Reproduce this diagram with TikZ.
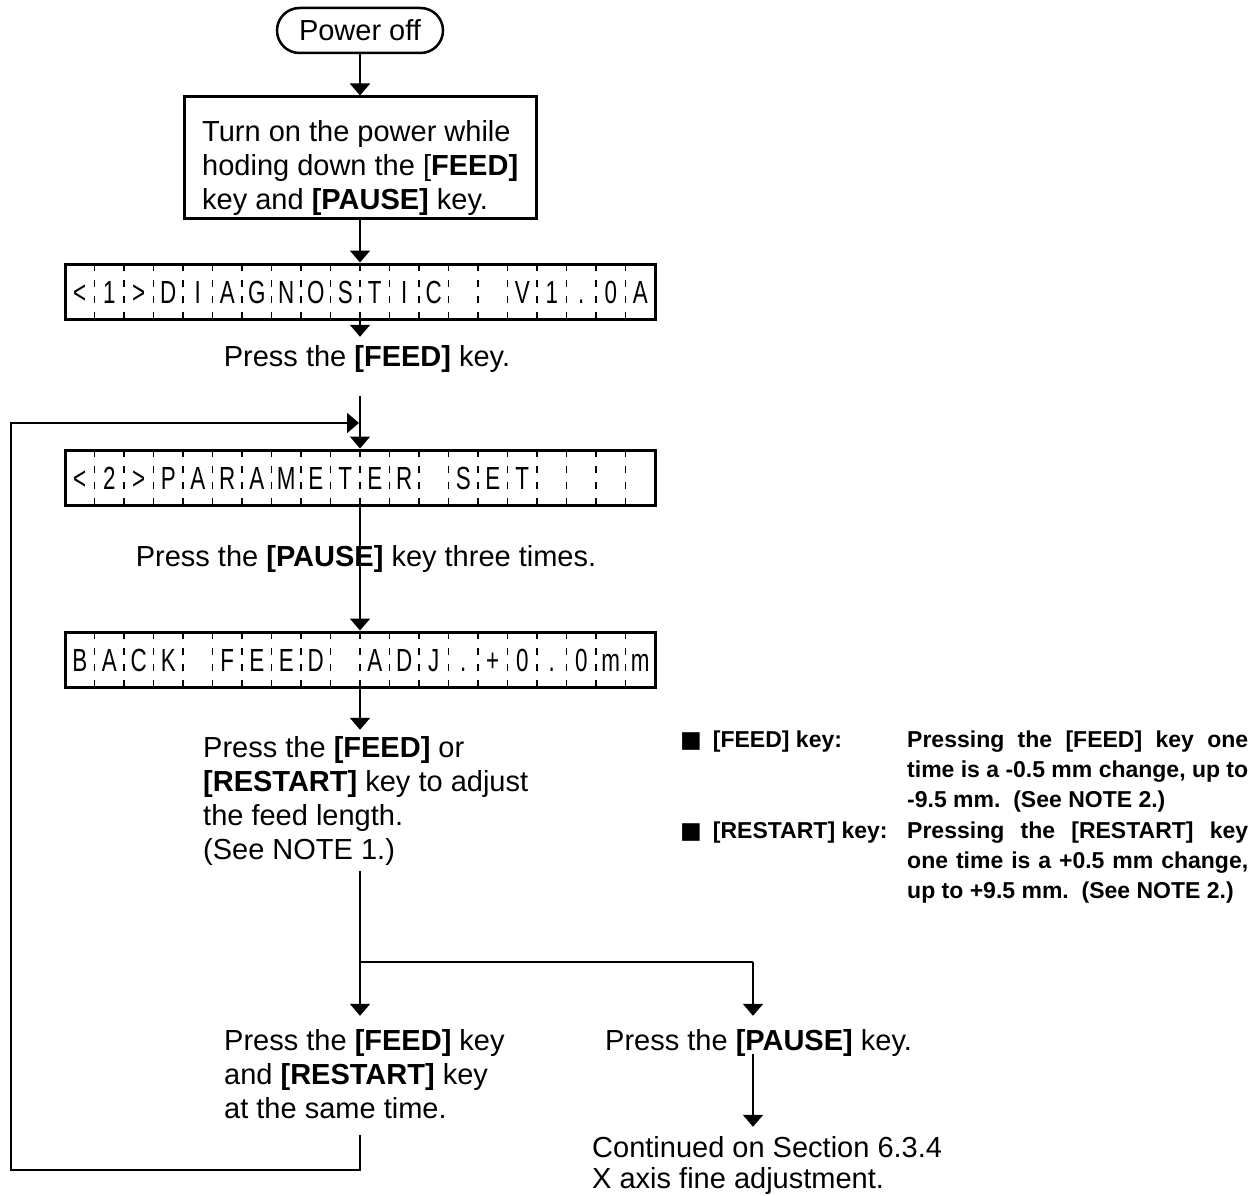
\documentclass[tikz,border=0pt]{standalone}
\usepackage{fontspec}
\setmainfont{Liberation Sans}
\newfontfamily\lcdfont[FakeStretch=0.7]{Liberation Sans}
\newfontfamily\symfont{DejaVu Sans}
\usetikzlibrary{arrows.meta}

\tikzset{
  arr/.style={line width=2pt, -{Triangle[width=20pt,length=12pt]}},
  conn/.style={line width=2pt, line join=miter},
  txt/.style={inner sep=0pt, align=left, font=\fontsize{29}{34}\selectfont},
  txtc/.style={inner sep=0pt, align=left, font=\fontsize{29}{31}\selectfont},
  ctxt/.style={inner sep=0pt, font=\fontsize{29}{34}\selectfont},
  note/.style={inner sep=0pt, align=left, font=\fontsize{23}{30}\selectfont\bfseries},
  termbox/.style={draw, line width=2.5pt, rounded corners=22.5pt, minimum width=166pt,
    minimum height=45pt, inner sep=0pt, font=\fontsize{29}{31}\selectfont},
  procbox/.style={draw, line width=3pt, minimum width=352pt, minimum height=121pt, inner sep=0pt},
  lcdbox/.style={draw, line width=3pt, minimum width=590pt, minimum height=55pt, inner sep=0pt},
  lcddash/.style={line width=1.6pt, dash pattern=on 7pt off 9pt},
  lcdch/.style={inner sep=0pt, anchor=base, font=\lcdfont\fontsize{32}{32}\selectfont},
}

\newcommand\lcdrow[3]{%
  \node[lcdbox] (#1) at (360,#2+27.5) {};
  \foreach \k in {1,...,19} {\draw[lcddash] (65+29.5*\k,#2) -- (65+29.5*\k,#2+55);}
  \foreach \ch [count=\i] in {#3} {\node[lcdch] (#1-\i) at (65+29.5*\i-14.75,#2+39.5) {\ch};}
}

\begin{document}
\begin{tikzpicture}[x=1pt,y=-1pt]
\useasboundingbox (0,0) rectangle (1258,1196);

% start
\node[termbox] (poweroff) at (360,30.5) {Power off};

% first step box (base anchor of a multi-line node = last line)
\node[procbox] (box) at (360,157.5) {};
\node[txt, anchor=base west] (boxtext) at (202,209)
  {Turn on the power while\\hoding down the [\textbf{FEED]}\\key and \textbf{[PAUSE]} key.};

% LCD displays
\lcdrow{lcd1}{264}{<,1,>,D,I,A,G,N,O,S,T,I,C,,,V,1,.,0,A}
\lcdrow{lcd2}{450}{<,2,>,P,A,R,A,M,E,T,E,R,,S,E,T,,,,}
\lcdrow{lcd3}{632}{B,A,C,K,,F,E,E,D,,A,D,J,.,+,0,.,0,m,m}

% texts
\node[ctxt, anchor=base] (t1) at (367,366) {Press the \textbf{[FEED]} key.};
\node[ctxt, anchor=base] (t2) at (366,566) {Press the \textbf{[PAUSE]} key three times.};
\node[txt, anchor=base west] (t3) at (203,859)
  {Press the \textbf{[FEED]} or\\\textbf{[RESTART]} key to adjust\\the feed length.\\(See NOTE 1.)};
\node[txt, anchor=base west] (t5) at (224,1118)
  {Press the \textbf{[FEED]} key\\and \textbf{[RESTART]} key\\at the same time.};
\node[txt, anchor=base west] (t6) at (605,1050) {Press the \textbf{[PAUSE]} key.};
\node[txtc, anchor=base west] (t7) at (592,1188)
  {Continued on Section 6.3.4\\X axis fine adjustment.};

% notes
\node[note, anchor=base west] (lab1) at (680,747) {{\symfont ■}\hspace{11pt}[FEED] key:};
\node[note, anchor=base west] (par1) at (907,807)
  {\makebox[341pt][s]{Pressing the [FEED] key one}\\
   \makebox[341pt][s]{time is a -0.5 mm change, up to}\\
   -9.5 mm.\ \ (See NOTE 2.)};
\node[note, anchor=base west] (lab2) at (680,838) {{\symfont ■}\hspace{11pt}[RESTART] key:};
\node[note, anchor=base west] (par2) at (907,898)
  {\makebox[341pt][s]{Pressing the [RESTART] key}\\
   \makebox[341pt][s]{one time is a +0.5 mm change,}\\
   up to +9.5 mm.\ \ (See NOTE 2.)};

% coordinates
\coordinate (split) at (360,962);
\coordinate (branch) at (753,962);
\coordinate (loopcorner) at (11,1170);
\coordinate (loopin) at (359,423);

% connectors
\draw[arr] (poweroff.south) -- (box.north);
\draw[arr] (box.south) -- (lcd1.north);
\draw[arr, shorten >=8pt] (lcd1.south) -- (lcd1.south |- t1.north);
\draw[arr, shorten <=24pt] (lcd2.north |- t1.south) -- (lcd2.north);
\draw[arr] (lcd2.south) -- (lcd3.north);
\draw[arr, shorten >=6pt] (lcd3.south) -- (lcd3.south |- t3.north);
\draw[conn, shorten <=6pt] (split |- t3.south) -- (split) -- (branch);
\draw[arr, shorten >=13pt] (split) -- (split |- t5.north);
\draw[arr, shorten >=13pt] (branch) -- (branch |- t6.north);
\draw[arr, shorten <=-2pt, shorten >=9pt] (branch |- t6.south) -- (branch |- t7.north);
\draw[conn, arr, shorten <=17pt] (split |- t5.south) -- (split |- loopcorner) -- (loopcorner)
  -- (loopcorner |- loopin) -- (loopin);
\end{tikzpicture}
\end{document}
